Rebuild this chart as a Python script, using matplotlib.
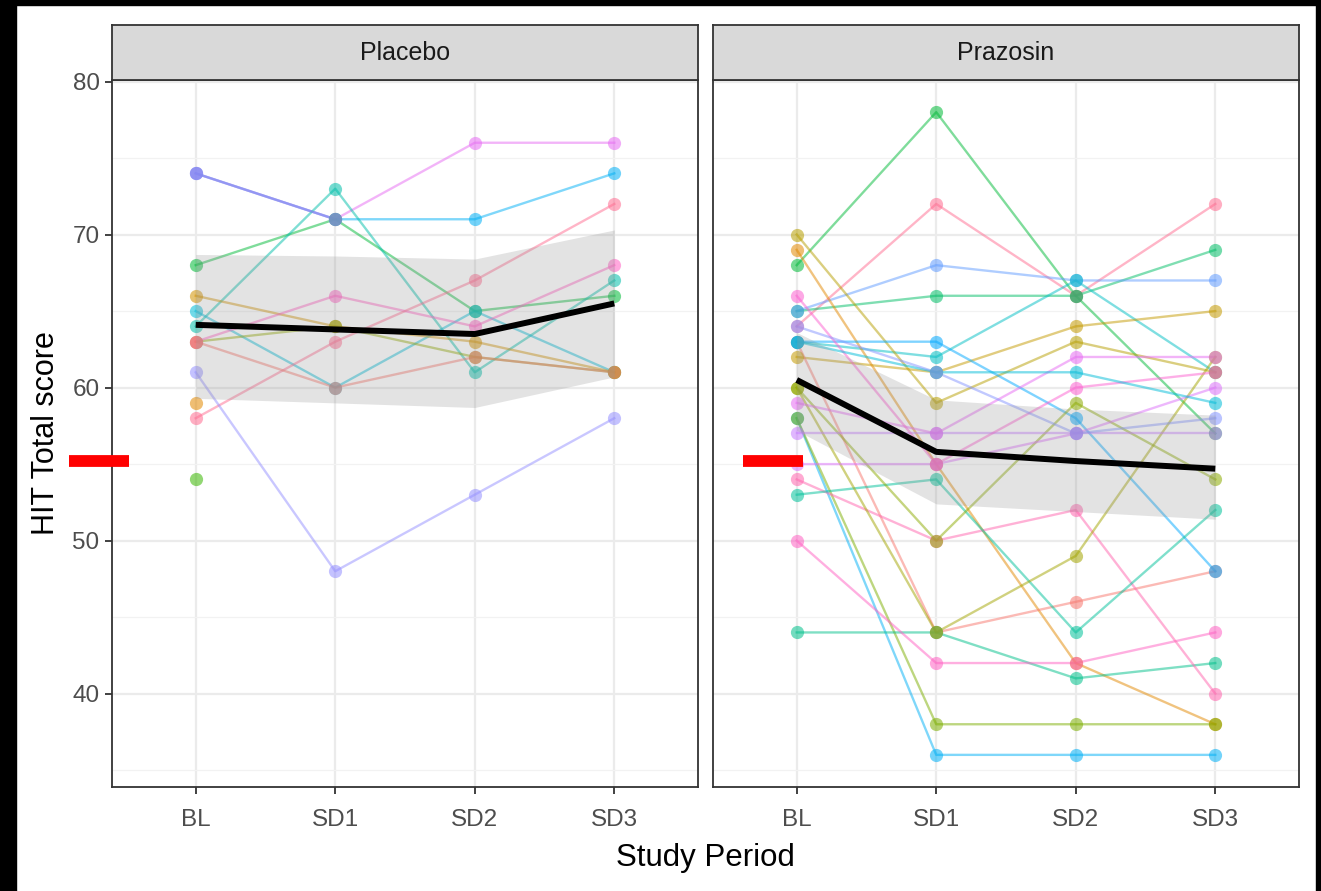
import numpy as np
import matplotlib
matplotlib.use("Agg")
import matplotlib.pyplot as plt
from matplotlib.patches import Rectangle

plt.rcParams['font.family'] = ['Liberation Sans', 'DejaVu Sans']

periods = ['BL', 'SD1', 'SD2', 'SD3']

# Placebo subjects: (colour, scores at BL, SD1, SD2, SD3)
placebo_colors = ['#E76BF3', '#00B0F6', '#00BA38', '#00BFAA', '#00BCD8', '#D39200',
                  '#93AA00', '#FF61C3', '#FF6C91', '#F8766D', '#9590FF', '#E38900', '#39B600',
                  '#B07CF0']
placebo_scores = [
    [74, 71, 76, 76],
    [74, 71, 71, 74],
    [68, 71, 65, 66],
    [64, 73, 61, 67],
    [65, 60, 65, 61],
    [66, 64, 63, 61],
    [63, 64, 62, 61],
    [63, 66, 64, 68],
    [58, 63, 67, 72],
    [63, 60, 62, 61],
    [61, 48, 53, 58],
    [59, np.nan, np.nan, np.nan],
    [54, np.nan, np.nan, np.nan],
    [74, 71, np.nan, np.nan],
]
placebo_mean = [64.1, 63.8, 63.5, 65.5]
placebo_lo = [59.3, 59.0, 58.7, 60.7]
placebo_hi = [68.7, 68.6, 68.4, 70.3]

# Prazosin subjects
prazosin_colors = ['#00BA38', '#FF6C91', '#00BE67', '#619CFF', '#00BFC4', '#B79F00',
                   '#C49A00', '#E38900', '#F8766D', '#00A9FF', '#00B0F6', '#7CAE00',
                   '#00C08B', '#FF61C3', '#FF65AE', '#00C19A', '#A3A500', '#8CAB00',
                   '#C77CFF', '#DC71FA', '#E76BF3', '#FD61D1', '#00BCD8', '#8494FF']
prazosin_scores = [
    [68, 78, 66, 57],
    [64, 72, 66, 72],
    [65, 66, 66, 69],
    [65, 68, 67, 67],
    [63, 62, 67, 61],
    [70, 59, 63, 61],
    [62, 61, 64, 65],
    [69, 55, 42, 38],
    [63, 44, 46, 48],
    [63, 63, 58, 48],
    [58, 36, 36, 36],
    [58, 38, 38, 38],
    [44, 44, 41, 42],
    [50, 42, 42, 44],
    [54, 50, 52, 40],
    [53, 54, 44, 52],
    [60, 44, 49, 62],
    [60, 50, 59, 54],
    [57, 57, 57, 57],
    [55, 55, 57, 60],
    [59, 57, 62, 62],
    [66, 55, 60, 61],
    [63, 61, 61, 59],
    [64, 61, 57, 58],
]
prazosin_mean = [60.5, 55.8, 55.2, 54.7]
prazosin_lo = [57.2, 52.4, 51.9, 51.4]
prazosin_hi = [63.6, 59.2, 58.6, 58.2]

W, H = 1321, 891
fig = plt.figure(figsize=(W / 100, H / 100), dpi=100)

x = np.arange(len(periods))
panels = [
    ('Placebo', 112, placebo_colors, placebo_scores, placebo_mean, placebo_lo, placebo_hi, (69, 129)),
    ('Prazosin', 713, prazosin_colors, prazosin_scores, prazosin_mean, prazosin_lo, prazosin_hi, (743, 803)),
]

pw = 586
top, bottom = 80, 787
for i, (name, left_px, cols, scores, mean, lo, hi, red_px) in enumerate(panels):
    ax = fig.add_axes([left_px / W, 1 - bottom / H, pw / W, (bottom - top) / H])
    ax.set_xlim(-0.6, 3.6)
    ax.set_ylim(33.9, 80.1)

    for c, s in zip(cols, scores):
        ax.plot(x, s, color=c, lw=1.7, alpha=0.5, zorder=2)
        ax.plot(x, s, 'o', color=c, ms=9.5, alpha=0.55, mec='none', zorder=3)

    ax.fill_between(x, lo, hi, color='#999999', alpha=0.27, lw=0, zorder=4)
    ax.plot(x, mean, color='black', lw=4.3, zorder=5, solid_capstyle='butt')

    # red marker segment
    px_per_unit = pw / 4.2
    x0 = -0.6 + (red_px[0] - left_px) / px_per_unit
    x1 = -0.6 + (red_px[1] - left_px) / px_per_unit
    ax.plot([x0, x1], [55.2, 55.2], color='red', lw=8.5, solid_capstyle='butt',
            clip_on=False, zorder=10)

    ax.set_xticks(x)
    ax.set_xticklabels(periods)
    ax.set_yticks([40, 50, 60, 70, 80])
    ax.set_yticks([35, 45, 55, 65, 75], minor=True)
    ax.grid(which='major', color='#EBEBEB', lw=1.6, zorder=0)
    ax.grid(which='minor', axis='y', color='#F2F2F2', lw=0.9, zorder=0)
    ax.set_axisbelow(True)
    ax.tick_params(axis='both', which='major', length=5, width=1.3, color='#333333',
                   labelsize=17.5, labelcolor='#4D4D4D', pad=4)
    ax.tick_params(axis='x', pad=11)
    ax.tick_params(which='minor', length=0)
    for sp in ax.spines.values():
        sp.set_color('#333333')
        sp.set_linewidth(1.3)
    if i == 1:
        ax.tick_params(axis='y', which='both', left=False, labelleft=False)
    else:
        ax.set_ylabel('HIT Total score', fontsize=22, color='black', labelpad=8)

    # facet strip
    sax = fig.add_axes([left_px / W, 1 - top / H, pw / W, 55 / H])
    sax.set_facecolor('#D9D9D9')
    sax.set_xticks([])
    sax.set_yticks([])
    for sp in sax.spines.values():
        sp.set_color('#333333')
        sp.set_linewidth(1.3)
    sax.text(0.5, 0.5, name, ha='center', va='center', fontsize=18, color='#1A1A1A',
             transform=sax.transAxes)

fig.text(705 / W, 1 - 858 / H, 'Study Period', ha='center', va='center', fontsize=22.5, color='black')

# black frame around the picture
fig.add_artist(Rectangle((0, 0), 16 / W, 1, transform=fig.transFigure, color='black', zorder=20))
fig.add_artist(Rectangle((1316 / W, 0), 5 / W, 1, transform=fig.transFigure, color='black', zorder=20))
fig.add_artist(Rectangle((0, 1 - 5 / H), 1, 5 / H, transform=fig.transFigure, color='black', zorder=20))

fig.savefig('out.png', dpi=100)
